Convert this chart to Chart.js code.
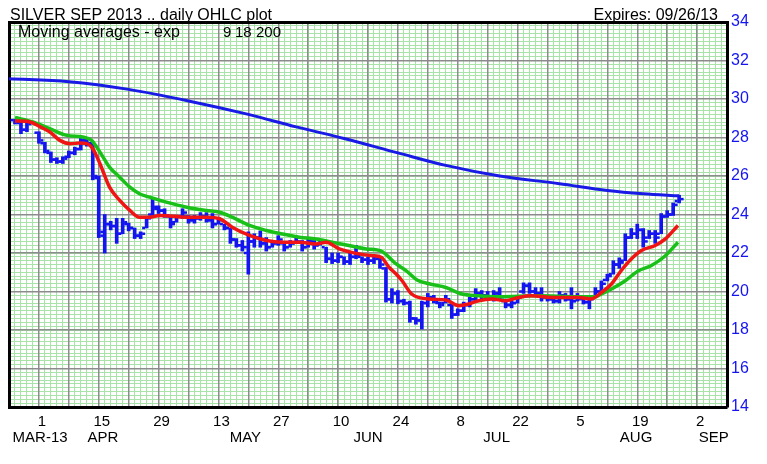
<!DOCTYPE html>
<html>
<head>
<meta charset="utf-8">
<script src="https://cdn.jsdelivr.net/npm/chart.js@4.4.0/dist/chart.umd.min.js"></script>
<style>
  html, body { margin: 0; padding: 0; background: #fff; }
</style>
</head>
<body>
<canvas id="myChart" width="767" height="464"></canvas>
<script>
// x = trading day index, 0 = Mon 25 Mar 2013, 5 days a week (29 Mar holiday)
const days = [1, 2, 3, 5, 6, 7, 8, 9, 10, 11,
  12, 13, 14, 15, 16, 17, 18, 19, 20, 21,
  22, 23, 24, 25, 26, 27, 28, 29, 30, 31,
  32, 33, 34, 35, 36, 37, 38, 39, 40, 41,
  42, 43, 44, 45, 46, 47, 48, 49, 50, 51,
  52, 53, 54, 55, 56, 57, 58, 59, 60, 61,
  62, 63, 64, 65, 66, 67, 68, 69, 70, 71,
  72, 73, 74, 75, 76, 77, 78, 79, 80, 81,
  82, 83, 84, 85, 86, 87, 88, 89, 90, 91,
  92, 93, 94, 95, 96, 97, 98, 99, 100, 101,
  102, 103, 104, 105, 106, 107, 108, 109, 110, 111,
  112];

const opens = [28.90, 28.75, 28.40, 28.25, 27.70, 27.20, 26.85, 26.75, 27.00, 27.20,
  27.40, 27.85, 27.70, 25.90, 22.90, 23.50, 23.40, 23.00, 23.50, 23.30,
  22.90, 23.30, 24.00, 24.30, 24.20, 23.90, 23.60, 23.90, 23.90, 23.70,
  23.80, 23.90, 23.70, 23.50, 23.50, 23.30, 22.70, 22.40, 22.00, 22.60,
  22.80, 22.50, 22.30, 22.50, 22.50, 22.30, 22.50, 22.60, 22.30, 22.60,
  22.40, 22.30, 21.70, 21.60, 21.80, 21.55, 21.80, 21.80, 21.65, 21.60,
  21.70, 21.20, 19.60, 19.90, 19.50, 19.40, 18.60, 18.50, 19.40, 19.70,
  19.40, 19.40, 19.30, 18.80, 19.00, 19.30, 19.60, 19.90, 19.80, 19.70,
  19.90, 19.50, 19.30, 19.40, 20.00, 20.30, 20.00, 19.90, 19.70, 19.60,
  19.50, 19.80, 19.60, 19.50, 19.60, 19.45, 19.70, 20.00, 20.60, 20.90,
  21.40, 21.60, 22.80, 23.00, 23.20, 22.80, 23.00, 23.00, 23.90, 24.00,
  24.70];

const highs = [28.95, 28.80, 28.75, 28.30, 27.75, 27.25, 26.95, 27.00, 27.30, 27.50,
  27.95, 27.95, 27.75, 26.00, 24.00, 23.65, 23.80, 23.80, 23.55, 23.30,
  23.10, 23.85, 24.80, 24.45, 24.30, 23.95, 23.95, 24.30, 23.95, 23.95,
  24.10, 24.10, 24.05, 23.85, 23.50, 23.30, 22.75, 22.65, 23.10, 23.00,
  23.15, 22.80, 22.65, 22.90, 22.55, 22.65, 22.90, 22.65, 22.75, 22.65,
  22.65, 22.30, 22.00, 22.00, 21.80, 22.00, 22.40, 21.80, 21.80, 21.85,
  21.80, 21.25, 20.15, 20.05, 19.60, 19.50, 18.65, 19.50, 19.90, 19.80,
  19.45, 19.80, 19.35, 19.10, 19.45, 19.70, 20.15, 20.05, 20.00, 20.05,
  20.20, 19.60, 19.50, 19.80, 20.45, 20.45, 20.20, 20.20, 19.75, 19.75,
  20.00, 19.90, 20.20, 19.90, 19.60, 19.70, 20.20, 20.55, 20.90, 21.60,
  21.75, 23.00, 23.27, 23.50, 23.27, 23.17, 23.17, 24.05, 24.20, 24.60,
  25.00];

const lows = [28.70, 28.20, 28.30, 27.70, 27.20, 26.70, 26.65, 26.65, 26.95, 27.10,
  27.35, 27.55, 25.80, 22.80, 22.00, 23.20, 22.50, 23.00, 23.15, 22.75,
  22.75, 23.30, 23.95, 24.05, 23.85, 23.30, 23.60, 23.80, 23.55, 23.55,
  23.70, 23.60, 23.30, 23.50, 23.20, 22.50, 22.30, 22.10, 20.90, 22.30,
  22.30, 22.10, 22.30, 22.40, 22.10, 22.30, 22.50, 22.10, 22.30, 22.20,
  22.40, 21.50, 21.45, 21.50, 21.40, 21.40, 21.70, 21.50, 21.40, 21.45,
  21.20, 19.45, 19.40, 19.36, 19.30, 18.40, 18.30, 18.05, 19.20, 19.40,
  19.15, 19.40, 18.60, 18.75, 18.95, 19.20, 19.50, 19.60, 19.60, 19.50,
  19.60, 19.15, 19.15, 19.40, 19.90, 19.90, 19.75, 19.50, 19.50, 19.40,
  19.40, 19.50, 19.10, 19.50, 19.35, 19.10, 19.70, 19.90, 20.55, 20.90,
  21.20, 21.60, 22.75, 22.75, 22.30, 22.75, 22.50, 23.00, 23.85, 23.95,
  24.60];

const closes = [28.80, 28.40, 28.70, 27.85, 27.30, 26.85, 26.75, 26.90, 27.20, 27.40,
  27.85, 27.70, 26.00, 23.10, 23.50, 23.40, 23.00, 23.60, 23.30, 22.90,
  23.00, 23.80, 24.40, 24.20, 23.95, 23.50, 23.90, 24.10, 23.70, 23.80,
  23.90, 23.70, 23.50, 23.70, 23.30, 22.70, 22.40, 22.30, 22.60, 22.80,
  22.50, 22.30, 22.50, 22.70, 22.30, 22.50, 22.80, 22.30, 22.60, 22.40,
  22.55, 21.70, 21.60, 21.80, 21.55, 21.80, 21.90, 21.65, 21.60, 21.70,
  21.40, 19.60, 19.90, 19.50, 19.40, 18.60, 18.50, 19.40, 19.70, 19.50,
  19.30, 19.60, 18.80, 19.00, 19.30, 19.60, 19.90, 19.80, 19.70, 19.90,
  19.70, 19.30, 19.40, 19.70, 20.30, 20.00, 19.90, 19.70, 19.60, 19.50,
  19.80, 19.60, 19.50, 19.70, 19.45, 19.60, 20.00, 20.40, 20.80, 21.40,
  21.50, 22.80, 23.00, 23.20, 22.60, 23.00, 22.80, 23.90, 24.00, 24.50,
  24.80];

// moving averages
const ema9Days = [1, 3.5, 5.2, 6.8, 8.5, 10.2, 11.8, 13, 14, 15.2, 16.8, 18.5, 20.2, 21.8, 23.5,
  25.2, 29.7, 33, 35.2, 37.3, 40.2, 43, 45.7, 48.5, 51.3, 53, 55.2, 58, 60.7, 62.2,
  63.5, 64.7, 65.7, 67.3, 70.2, 73, 75.2, 76.8, 78.5, 80.7, 83, 85.2, 87.3, 90.7,
  95.2, 97.3, 99, 100.7, 102.3, 104, 105.7, 108, 109.7, 111.8];
const ema9Values = [28.86, 28.81, 28.55, 28.29, 27.85, 27.68, 27.71, 27.68, 27.42, 26.64, 25.42, 24.73, 24.21, 23.86, 23.86,
  23.95, 23.86, 23.86, 23.78, 23.34, 22.91, 22.65, 22.56, 22.56, 22.47, 22.56, 22.21, 21.98, 21.86, 21.78,
  21.26, 20.91, 20.56, 19.87, 19.61, 19.56, 19.26, 19.35, 19.52, 19.61, 19.52, 19.69, 19.78, 19.69,
  19.69, 19.61, 19.95, 20.39, 21.08, 21.69, 22.13, 22.39, 22.73, 23.43];

const ema18Days = [1, 4, 6.8, 9.7, 12.3, 13.8, 15.2, 16.8, 18.5, 20.2, 21.8, 23.5, 26.3, 29.7, 33,
  35.2, 37.3, 40.2, 43, 45.7, 48.5, 51.3, 54, 56.8, 59.7, 62.2, 64.7, 66.3, 68.2, 70.2,
  73, 75.7, 78.5, 81.8, 88.5, 95.2, 98, 99, 100.7, 103, 105.2, 107.3, 109.7, 111.8];
const ema18Values = [29.04, 28.81, 28.46, 28.11, 28.03, 27.85, 27.24, 26.46, 25.94, 25.42, 25.08, 24.90, 24.64, 24.38, 24.21,
  24.12, 23.86, 23.43, 23.17, 22.99, 22.82, 22.73, 22.56, 22.39, 22.21, 22.10, 21.43, 21.10, 20.60, 20.40,
  20.21, 19.87, 19.78, 19.73, 19.78, 19.73, 19.73, 19.87, 20.13, 20.56, 21.08, 21.34, 21.86, 22.56];

const ma200Days = [0, 10, 20, 30, 40, 48, 56, 65, 73, 82, 92, 100, 106, 112];
const ma200Values = [31.05, 30.90, 30.50, 29.90, 29.20, 28.55, 27.95, 27.20, 26.55, 26.00, 25.60, 25.25, 25.08, 24.97];

// tick labels
const dayTickAt = [5, 15, 25, 35, 45, 55, 65, 75, 85, 95, 105, 115];
const dayLabels = ['1', '15', '29', '13', '27', '10', '24', '8', '22', '5', '19', '2'];
const monthTickAt = [5.2, 15.7, 39.5, 60, 81.5, 104.8, 117.8];
const monthLabels = ['MAR-13', 'APR', 'MAY', 'JUN', 'JUL', 'AUG', 'SEP'];
const priceLabels = [14, 16, 18, 20, 22, 24, 26, 28, 30, 32, 34];

const titleLeft = 'SILVER SEP 2013 .. daily OHLC plot';
const titleRight = 'Expires: 09/26/13';
const maText = 'Moving averages - exp';
const maPeriods = ['9', '18', '200'];

const FONT = "'Liberation Sans', Arial, sans-serif";
const BLUE = '#1414f0';
const MINOR = '#a8e4a8';
const MAJOR = '#8c8c8c';

const headerText = {
  id: 'headerText',
  afterDraw(chart) {
    const ctx = chart.ctx;
    const area = chart.chartArea;
    ctx.save();
    ctx.fillStyle = '#000';
    ctx.textBaseline = 'alphabetic';
    ctx.font = '16px ' + FONT;
    ctx.textAlign = 'left';
    ctx.fillText(titleLeft, 10, 20);
    ctx.textAlign = 'right';
    ctx.fillText(titleRight, 718, 20);
    ctx.textAlign = 'left';
    ctx.fillText(maText, area.left + 9, area.top + 15);
    ctx.font = '15px ' + FONT;
    ctx.fillText(maPeriods[0], area.left + 214, area.top + 15);
    ctx.fillText(maPeriods[1], area.left + 226, area.top + 15);
    ctx.fillText(maPeriods[2], area.left + 247, area.top + 15);
    ctx.restore();
  }
};

new Chart(document.getElementById('myChart'), {
  type: 'line',
  data: {
    datasets: [{
      type: 'line',
      data: ma200Days.map((d, k) => ({ x: d, y: ma200Values[k] })),
      borderColor: '#1a1ae6',
      borderWidth: 3,
      pointRadius: 0,
      cubicInterpolationMode: 'monotone',
      order: 1
    }, {
      type: 'line',
      data: ema18Days.map((d, k) => ({ x: d, y: ema18Values[k] })),
      borderColor: '#18c018',
      borderWidth: 3.5,
      pointRadius: 0,
      cubicInterpolationMode: 'monotone',
      order: 2
    }, {
      type: 'line',
      data: ema9Days.map((d, k) => ({ x: d, y: ema9Values[k] })),
      borderColor: '#f01414',
      borderWidth: 3.5,
      pointRadius: 0,
      cubicInterpolationMode: 'monotone',
      order: 1
    }, {
      type: 'bar',
      data: days.map((d, k) => ({ x: d, y: [lows[k], highs[k]] })),
      backgroundColor: BLUE,
      barThickness: 3,
      order: 5
    }, {
      type: 'line',
      showLine: false,
      data: days.map((d, k) => ({ x: d - 0.5, y: opens[k] })),
      pointStyle: 'line',
      pointRadius: 1.5,
      pointBorderWidth: 2.5,
      pointBorderColor: BLUE,
      order: 5
    }, {
      type: 'line',
      showLine: false,
      data: days.map((d, k) => ({ x: d + 0.5, y: closes[k] })),
      pointStyle: 'line',
      pointRadius: 1.5,
      pointBorderWidth: 2.5,
      pointBorderColor: BLUE,
      order: 5
    }]
  },
  options: {
    responsive: false,
    animation: false,
    events: [],
    layout: { padding: { left: 9, top: 22, right: 0, bottom: 0 } },
    plugins: {
      legend: { display: false },
      tooltip: { enabled: false }
    },
    scales: {
      xMinor: {
        type: 'linear', position: 'top', min: 0, max: 120,
        ticks: { display: false, stepSize: 1, maxTicksLimit: 1000 },
        grid: { color: MINOR, lineWidth: 1, drawTicks: false, z: -2 },
        border: { color: '#000', width: 3 },
        afterFit: (s) => { s.height = 0; }
      },
      yMinor: {
        type: 'linear', position: 'left', min: 14, max: 34,
        ticks: { display: false, stepSize: 0.2, maxTicksLimit: 1000 },
        grid: { color: MINOR, lineWidth: 1, drawTicks: false, z: -2 },
        border: { color: '#000', width: 3 },
        afterFit: (s) => { s.width = 0; }
      },
      x: {
        type: 'linear', position: 'bottom', min: 0, max: 120, offset: false, weight: 0,
        afterBuildTicks: (s) => {
          const t = [];
          for (let v = 0; v <= 120; v += 5) t.push({ value: v });
          s.ticks = t;
        },
        ticks: {
          autoSkip: false, maxRotation: 0, padding: 6, labelOffset: 3,
          color: '#000', font: { family: FONT, size: 15 },
          callback: (v) => {
            const k = dayTickAt.indexOf(v);
            return k >= 0 ? dayLabels[k] : '';
          }
        },
        grid: { color: MAJOR, lineWidth: 1.5, drawTicks: false, offset: false },
        border: { color: '#000', width: 3 },
        afterFit: (s) => { s.height = 22; }
      },
      xMonth: {
        type: 'linear', position: 'bottom', min: 0, max: 120, offset: false, weight: 1,
        afterBuildTicks: (s) => { s.ticks = monthTickAt.map(v => ({ value: v })); },
        ticks: {
          autoSkip: false, maxRotation: 0, padding: 0,
          color: '#000', font: { family: FONT, size: 15 },
          callback: (v) => {
            const k = monthTickAt.indexOf(v);
            return k >= 0 ? monthLabels[k] : '';
          }
        },
        grid: { display: false, drawTicks: false },
        border: { display: false },
        afterFit: (s) => { s.height = 35; }
      },
      y: {
        type: 'linear', position: 'right', min: 14, max: 34,
        ticks: {
          stepSize: 1, padding: 4, color: BLUE, font: { family: FONT, size: 16 },
          callback: (v) => priceLabels.includes(v) ? String(v) : ''
        },
        grid: { color: MAJOR, lineWidth: 1.5, drawTicks: false },
        border: { color: '#000', width: 3 },
        afterFit: (s) => { s.width = 40; }
      }
    }
  },
  plugins: [headerText]
});
</script>
</body>
</html>
